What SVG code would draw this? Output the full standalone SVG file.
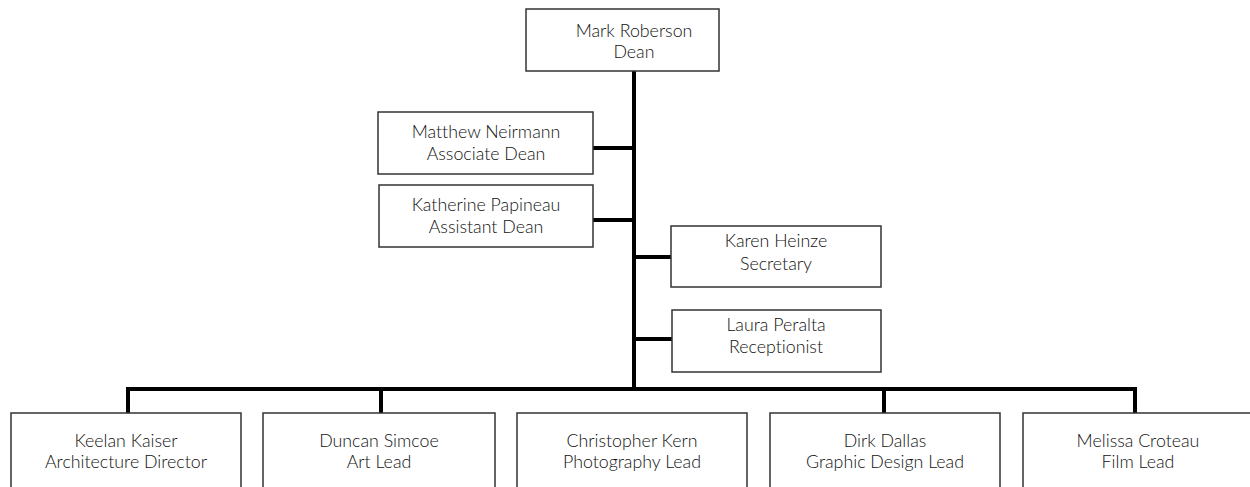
<svg xmlns="http://www.w3.org/2000/svg" width="1250" height="487" viewBox="0 0 1250 487">
<style>
.box{fill:#fff;stroke:#333;stroke-width:1.5}
.t{font-family:Lato,"Open Sans",sans-serif;font-size:17.8px;font-weight:300;fill:#111;text-anchor:middle;font-variant-ligatures:none}
.c{stroke:#000;stroke-width:4;fill:none}
</style>
<rect width="1250" height="487" fill="#fff"/>
<g id="connectors">
<line class="c" x1="634" y1="71" x2="634" y2="391"/>
<line class="c" x1="593" y1="148" x2="634" y2="148"/>
<line class="c" x1="593" y1="220" x2="634" y2="220"/>
<line class="c" x1="634" y1="257" x2="671" y2="257"/>
<line class="c" x1="634" y1="339" x2="672" y2="339"/>
<polyline class="c" points="128,413 128,389 1135,389 1135,413"/>
<line class="c" x1="381" y1="389" x2="381" y2="413"/>
<line class="c" x1="884" y1="389" x2="884" y2="413"/>
</g>
<g id="dean"><rect class="box" x="526" y="9" width="193" height="62"/><text class="t" x="634" y="37">Mark Roberson</text><text class="t" x="634" y="58">Dean</text></g>
<g id="assoc"><rect class="box" x="378" y="112" width="215" height="62"/><text class="t" x="486" y="138">Matthew Neirmann</text><text class="t" x="486" y="160">Associate Dean</text></g>
<g id="assist"><rect class="box" x="379" y="185" width="214" height="62"/><text class="t" x="486" y="211">Katherine Papineau</text><text class="t" x="486" y="233">Assistant Dean</text></g>
<g id="secretary"><rect class="box" x="671" y="226" width="210" height="61"/><text class="t" x="776" y="247">Karen Heinze</text><text class="t" x="776" y="270">Secretary</text></g>
<g id="receptionist"><rect class="box" x="672" y="310" width="209" height="62"/><text class="t" x="776" y="331">Laura Peralta</text><text class="t" x="776" y="353">Receptionist</text></g>
<g id="architecture"><rect class="box" x="11" y="413" width="230" height="90"/><text class="t" x="126" y="447">Keelan Kaiser</text><text class="t" x="126" y="468">Architecture Director</text></g>
<g id="art"><rect class="box" x="263" y="413" width="232" height="90"/><text class="t" x="379" y="447">Duncan Simcoe</text><text class="t" x="379" y="468">Art Lead</text></g>
<g id="photo"><rect class="box" x="517" y="413" width="230" height="90"/><text class="t" x="632" y="447">Christopher Kern</text><text class="t" x="632" y="468">Photography Lead</text></g>
<g id="graphic"><rect class="box" x="770" y="413" width="230" height="90"/><text class="t" x="885" y="447">Dirk Dallas</text><text class="t" x="885" y="468">Graphic Design Lead</text></g>
<g id="film"><rect class="box" x="1023" y="413" width="240" height="90"/><text class="t" x="1138" y="447">Melissa Croteau</text><text class="t" x="1138" y="468">Film Lead</text></g>
</svg>
